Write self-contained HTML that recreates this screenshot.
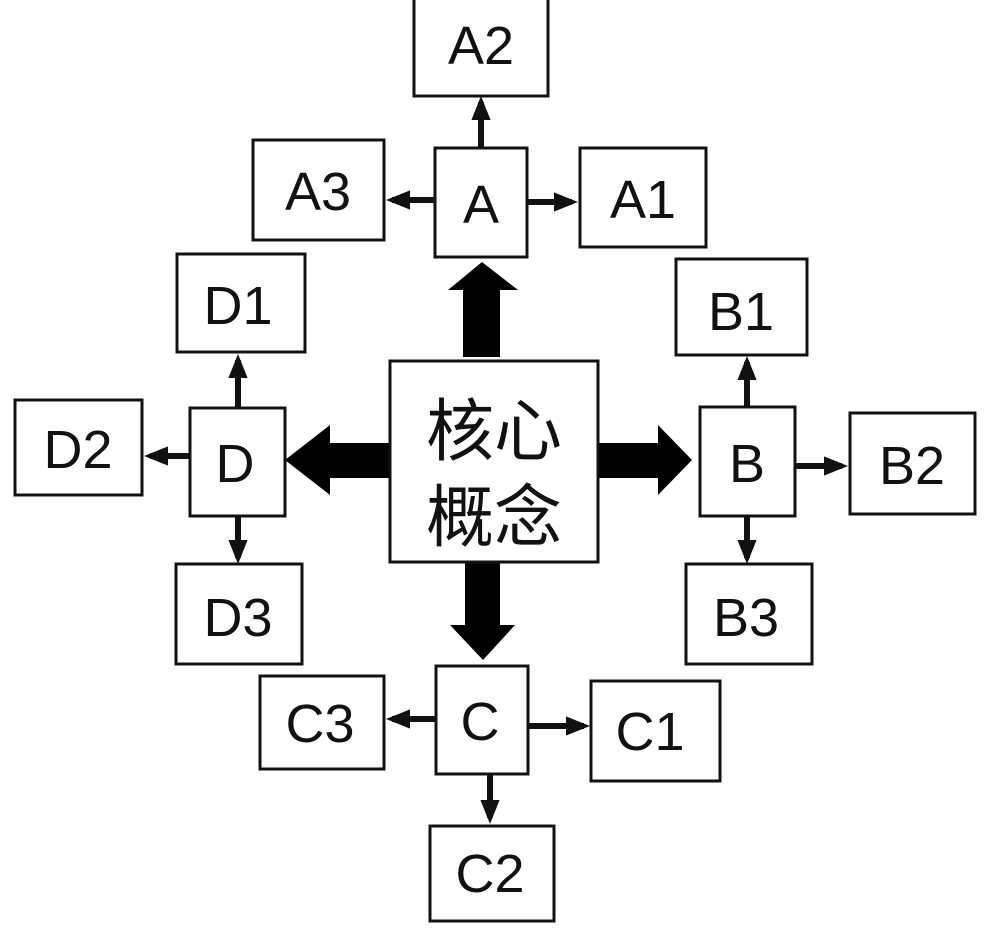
<!DOCTYPE html>
<html><head><meta charset="utf-8"><style>
html,body{margin:0;padding:0;background:#fff;}
svg{display:block}
text{font-family:"Liberation Sans",sans-serif;font-size:54px;fill:#111;text-anchor:middle;dominant-baseline:central}
.cj{font-family:"Liberation Sans","Noto Sans CJK SC",sans-serif;font-size:68px}
rect{fill:#fff;stroke:#111;stroke-width:3}
line{stroke:#111;stroke-width:6}
</style></head><body>
<svg width="994" height="929" viewBox="0 0 994 929">
<defs><marker id="ah" markerWidth="4" markerHeight="4" refX="3" refY="2" orient="auto"><path d="M0,0.4L4,2L0,3.6z" fill="#111"/></marker></defs>
<line x1="481" y1="148" x2="481" y2="102" marker-end="url(#ah)"/>
<line x1="435" y1="200" x2="392" y2="200" marker-end="url(#ah)"/>
<line x1="527" y1="202" x2="572" y2="202" marker-end="url(#ah)"/>
<line x1="238" y1="408" x2="238" y2="360" marker-end="url(#ah)"/>
<line x1="190" y1="456" x2="150" y2="456" marker-end="url(#ah)"/>
<line x1="238" y1="516" x2="238" y2="558" marker-end="url(#ah)"/>
<line x1="747" y1="407" x2="747" y2="362" marker-end="url(#ah)"/>
<line x1="795" y1="466" x2="842" y2="466" marker-end="url(#ah)"/>
<line x1="747" y1="516" x2="747" y2="558" marker-end="url(#ah)"/>
<line x1="436" y1="719" x2="392" y2="719" marker-end="url(#ah)"/>
<line x1="528" y1="726" x2="584" y2="726" marker-end="url(#ah)"/>
<line x1="490" y1="774" x2="490" y2="818" marker-end="url(#ah)"/>
<path d="M463,357V290H448L482,262L518,290H500V357Z" fill="#000"/>
<path d="M390,443H330V425L285,460L330,495V478H390Z" fill="#000"/>
<path d="M598,443H658V425L692,460L658,495V478H598Z" fill="#000"/>
<path d="M465,562V625H450L483,660L515,625H500V562Z" fill="#000"/>
<rect x="414" y="-3" width="134" height="99"/><text x="481" y="46">A2</text>
<rect x="253" y="140" width="131" height="100"/><text x="318" y="192">A3</text>
<rect x="435" y="148" width="92" height="109"/><text x="481" y="205">A</text>
<rect x="580" y="148" width="126" height="99"/><text x="643" y="200">A1</text>
<rect x="177" y="254" width="128" height="98"/><text x="238" y="306">D1</text>
<rect x="15" y="400" width="127" height="95"/><text x="78" y="450">D2</text>
<rect x="190" y="408" width="95" height="108"/><text x="235" y="464">D</text>
<rect x="390" y="361" width="208" height="201"/><text class="cj" x="494" y="432">核心</text><text class="cj" x="494" y="518">概念</text>
<rect x="700" y="407" width="95" height="109"/><text x="747" y="464">B</text>
<rect x="676" y="259" width="131" height="96"/><text x="741" y="312">B1</text>
<rect x="850" y="413" width="125" height="101"/><text x="912" y="466">B2</text>
<rect x="686" y="564" width="126" height="100"/><text x="746" y="618">B3</text>
<rect x="176" y="564" width="126" height="100"/><text x="238" y="618">D3</text>
<rect x="436" y="666" width="92" height="108"/><text x="480" y="722">C</text>
<rect x="260" y="676" width="124" height="93"/><text x="320" y="724">C3</text>
<rect x="591" y="681" width="129" height="100"/><text x="650" y="732">C1</text>
<rect x="430" y="826" width="124" height="95"/><text x="490" y="874">C2</text>
</svg>
</body></html>
